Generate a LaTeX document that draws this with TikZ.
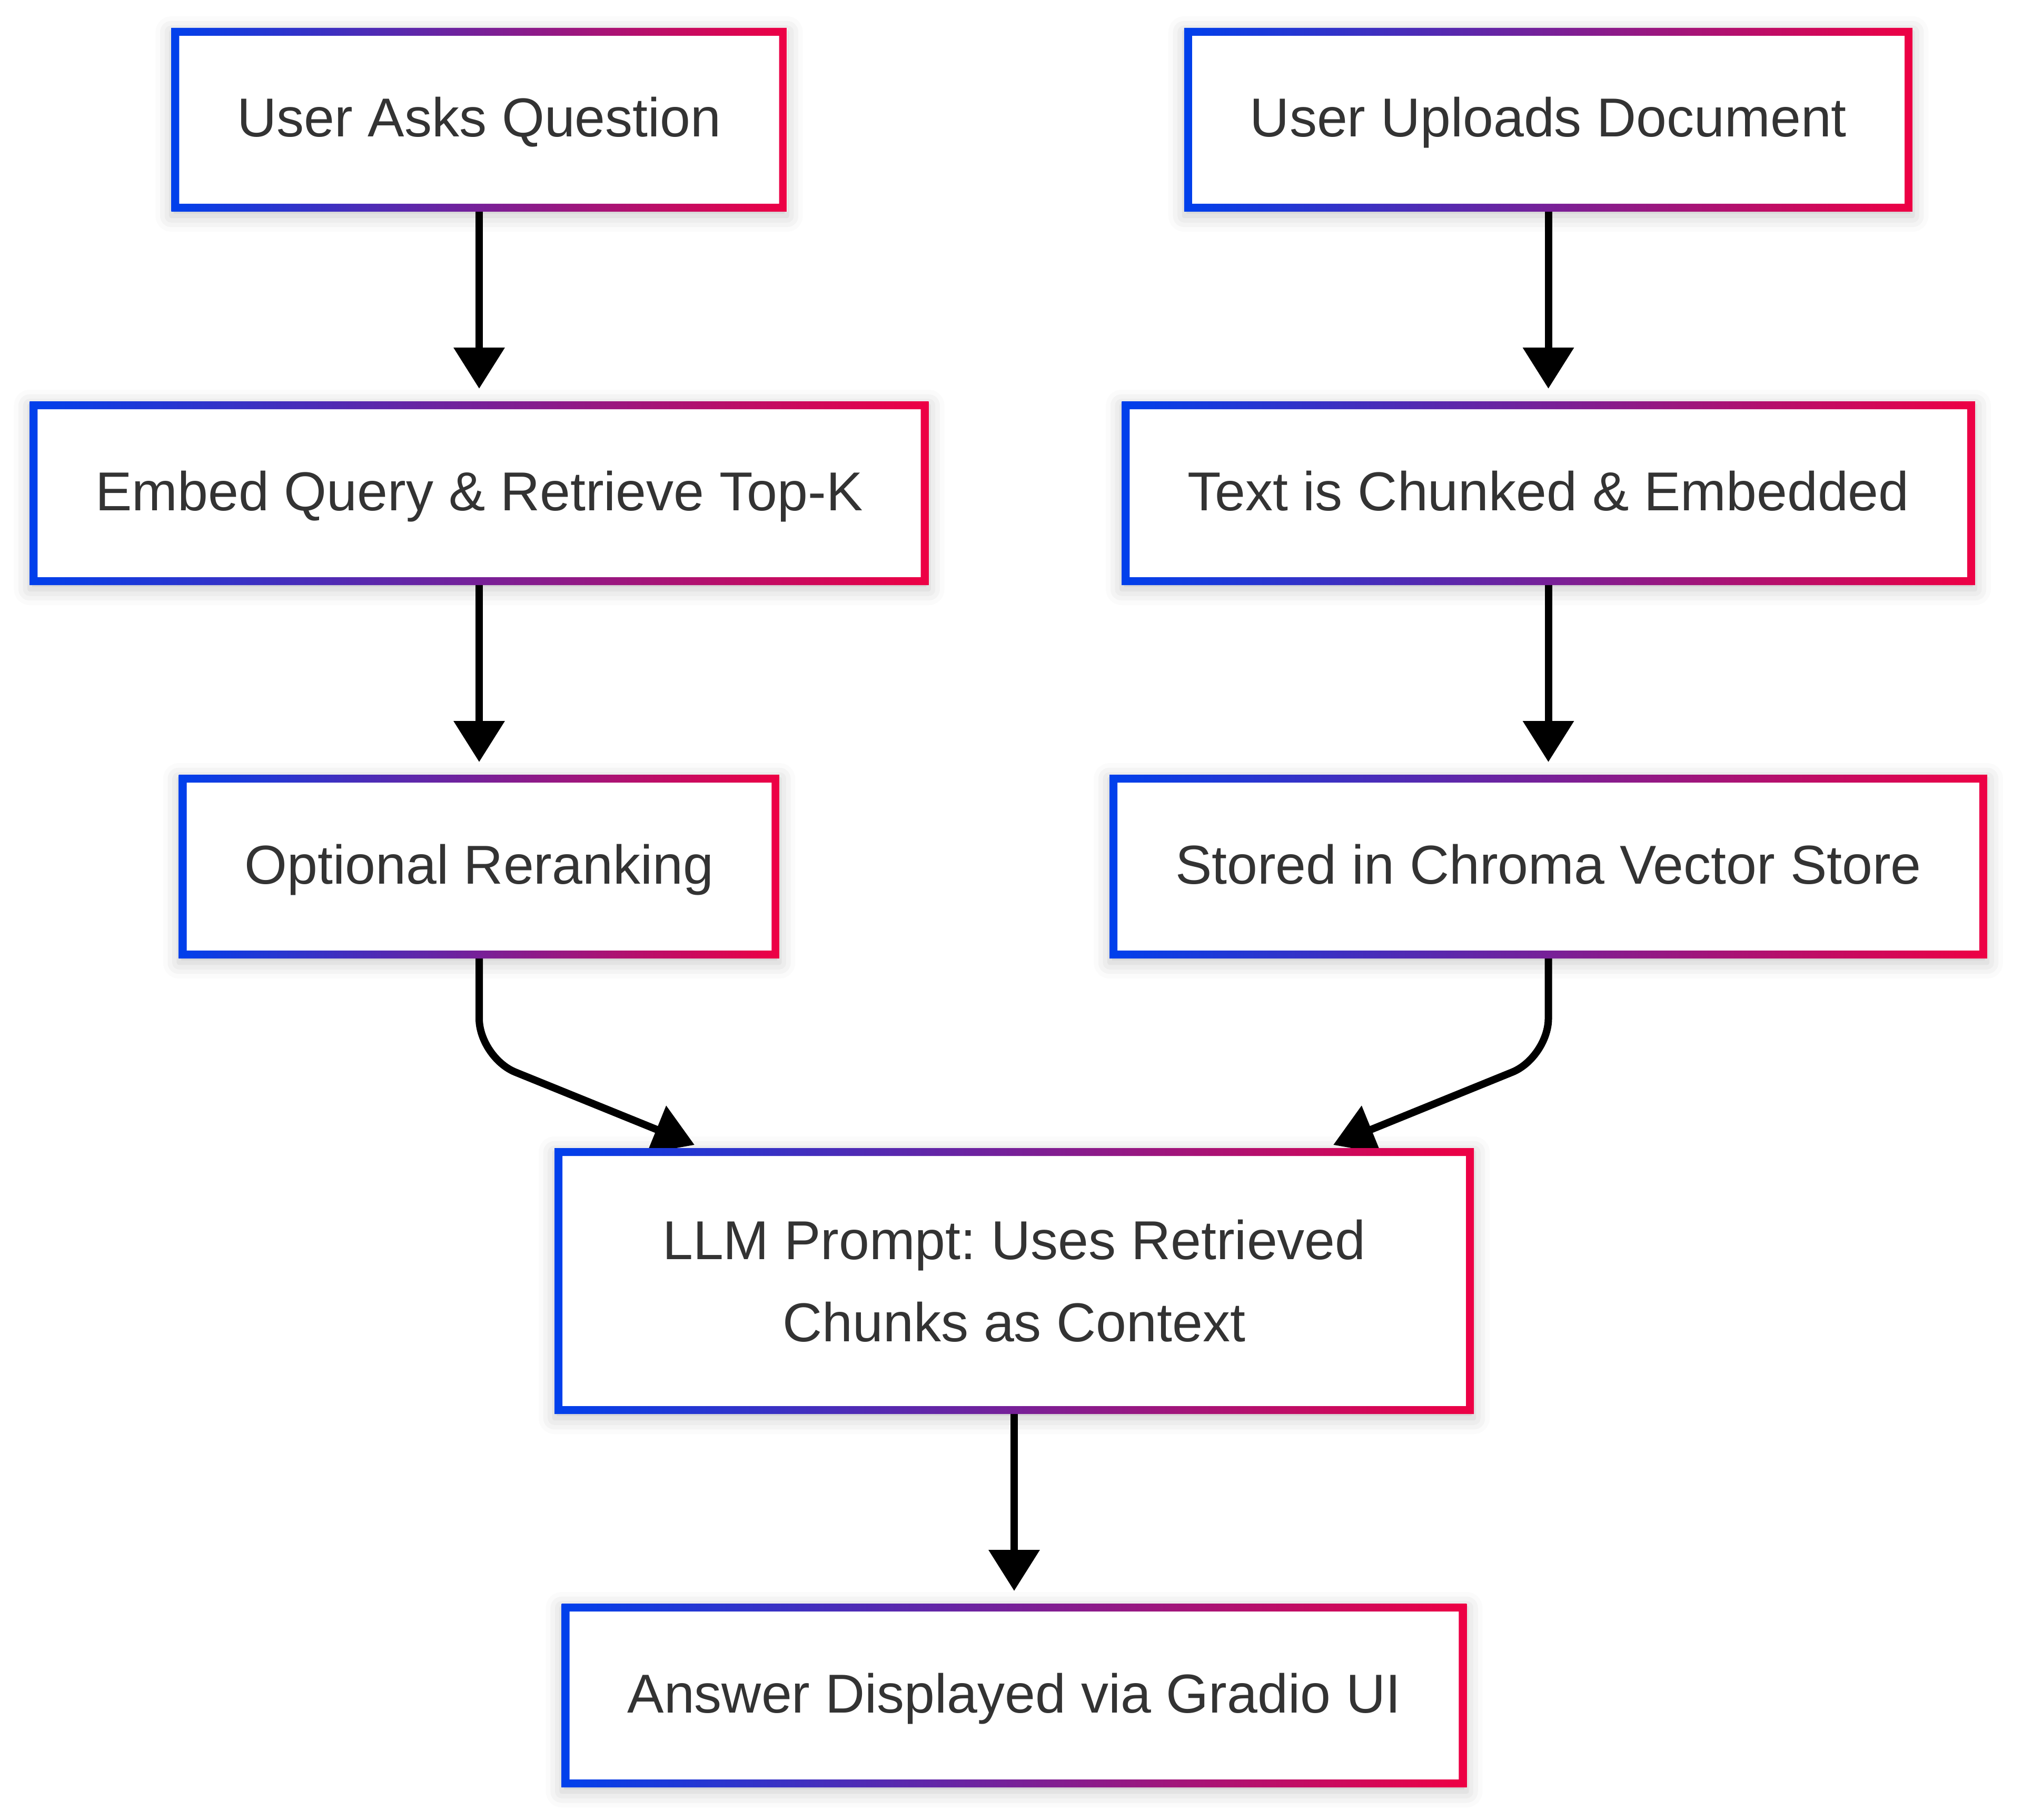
\documentclass[tikz,border=0pt]{standalone}
\usepackage{fontspec}
\setmainfont{Liberation Sans}
\frenchspacing
\usetikzlibrary{positioning}
\usetikzlibrary{calc}
\usetikzlibrary{arrows.meta}
\usetikzlibrary{shadows.blur}
\usetikzlibrary{backgrounds}
\definecolor{gblue}{HTML}{0040EC}
\definecolor{gred}{HTML}{EE0044}
\definecolor{txtgray}{HTML}{333333}
\tikzset{
	stage/.style={rectangle, fill=white, outer sep=0pt, inner xsep=1.25cm,
		minimum height=3.49cm, text height=0.85cm, text depth=0.2cm,
		text=txtgray, font=\fontsize{29.6}{44.4}\selectfont,
		blur shadow={shadow xshift=0cm, shadow yshift=-0.08cm, shadow blur radius=0.3cm, shadow opacity=22},
		path picture={\shade[left color=gblue, right color=gred, even odd rule]
			(path picture bounding box.south west) rectangle (path picture bounding box.north east)
			([shift={(0.15,0.15)}]path picture bounding box.south west) rectangle ([shift={(-0.15,-0.15)}]path picture bounding box.north east);}},
	flow/.style={line width=0.14cm, -{Triangle[length=0.78cm,width=0.94cm]}, shorten >=0.24cm},
	merge/.style={line width=0.14cm, rounded corners=0.74cm, -{Triangle[length=0.78cm,width=0.94cm]}}
}
\begin{document}
\begin{tikzpicture}[node distance=3.6cm]
			\useasboundingbox (0,0) rectangle (38.4,-34.56);
			% question side
			\node[stage] (ask) at (9.10,-2.275) {User Asks Question};
			\node[stage, below=of ask] (embedq) {Embed Query \& Retrieve Top-K};
			\node[stage, below=of embedq] (rerank) {Optional Reranking};
			% document side
			\node[stage] (upload) at (29.405,-2.275) {User Uploads Document};
			\node[stage, below=of upload] (chunk) {Text is Chunked \& Embedded};
			\node[stage, below=of chunk] (store) {Stored in Chroma Vector Store};
			% answer
			\node[stage, text height=, text depth=, align=center, minimum width=17.46cm, minimum height=5.05cm] (llm) at (19.26,-24.325)
			{LLM Prompt: Uses Retrieved\\Chunks as Context};
			\node[stage, below=of llm] (answer) {Answer Displayed via Gradio UI};
			\begin{scope}[on background layer]
				\draw[flow] (ask) -- (embedq);
				\draw[flow] (embedq) -- (rerank);
				\draw[flow] (upload) -- (chunk);
				\draw[flow] (chunk) -- (store);
				\draw[merge] (rerank.south) -- ++(0,-1.88) -- ($(llm.north west)+(2.66,0.06)$);
				\draw[merge] (store.south) -- ++(0,-1.88) -- ($(llm.north east)+(-2.67,0.06)$);
				\draw[flow] (llm) -- (answer);
			\end{scope}
		\end{tikzpicture}
\end{document}
